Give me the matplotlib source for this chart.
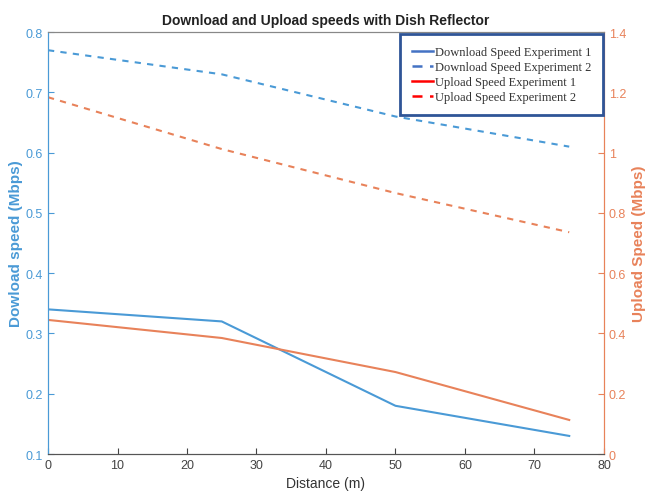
import matplotlib.pyplot as plt
from matplotlib.lines import Line2D

# distances (m)
distance = [0, 25, 50, 75]

# download speeds (Mbps), left axis
download_exp1 = [0.34, 0.32, 0.18, 0.13]
download_exp2 = [0.77, 0.73, 0.66, 0.61]

# upload speeds (Mbps), right axis
upload_exp1 = [0.445, 0.385, 0.272, 0.113]
upload_exp2 = [1.184, 1.012, 0.866, 0.736]

legend_labels = ['Download Speed Experiment 1', 'Download Speed Experiment 2',
                 'Upload Speed Experiment 1', 'Upload Speed Experiment 2']

blue = '#4a9ad6'
orange = '#e8825a'

plt.rcParams['font.family'] = ['Liberation Sans', 'DejaVu Sans']

fig = plt.figure(figsize=(6.47, 5.02), dpi=100)
ax = fig.add_axes([0.0742, 0.0936, 0.8593, 0.8404])
ax2 = ax.twinx()

ax.plot(distance, download_exp1, color=blue, linewidth=1.5)
ax.plot(distance, download_exp2, color=blue, linewidth=1.5, linestyle=(0, (3, 3)))
ax2.plot(distance, upload_exp1, color=orange, linewidth=1.5)
ax2.plot(distance, upload_exp2, color=orange, linewidth=1.5, linestyle=(0, (3, 3)))

ax.set_xlim(0, 80)
ax.set_ylim(0.1, 0.8)
ax2.set_ylim(0, 1.4)
ax.set_xticks(range(0, 81, 10))
ax.set_yticks([0.1, 0.2, 0.3, 0.4, 0.5, 0.6, 0.7, 0.8])
ax.set_yticklabels(['0.1', '0.2', '0.3', '0.4', '0.5', '0.6', '0.7', '0.8'])
ax2.set_yticks([0, 0.2, 0.4, 0.6, 0.8, 1.0, 1.2, 1.4])
ax2.set_yticklabels(['0', '0.2', '0.4', '0.6', '0.8', '1', '1.2', '1.4'])

for a in (ax, ax2):
    a.spines['top'].set_color('#888888')
    a.spines['bottom'].set_color('#555555')
    a.spines['left'].set_color(blue)
    a.spines['right'].set_color(orange)
ax.tick_params(axis='x', direction='in', colors='#444444', labelsize=9, length=4)
ax.tick_params(axis='y', direction='in', colors=blue, labelsize=9, length=4)
ax2.tick_params(axis='y', direction='in', colors=orange, labelsize=9, length=4)

ax.set_xlabel('Distance (m)', fontsize=10, color='#333333')
ax.set_ylabel('Dowload speed (Mbps)', fontsize=11, fontweight='bold', color=blue, labelpad=2)
ax2.set_ylabel('Upload Speed (Mbps)', fontsize=11, fontweight='bold', color=orange, labelpad=4)
ax.set_title('Download and Upload speeds with Dish Reflector', fontsize=10,
             fontweight='bold', color='#222222', pad=6)

handles = [Line2D([], [], color='#4472c4', linewidth=1.8),
           Line2D([], [], color='#4472c4', linewidth=1.8, linestyle=(0, (4, 3))),
           Line2D([], [], color='#ff0000', linewidth=1.8),
           Line2D([], [], color='#ff0000', linewidth=1.8, linestyle=(0, (4, 3)))]
leg = ax2.legend(handles, legend_labels, loc='upper right', bbox_to_anchor=(0.998, 0.995),
                 prop={'family': 'Liberation Serif', 'size': 9}, fancybox=False,
                 framealpha=1, edgecolor='#2f5597', handlelength=1.7, handletextpad=0.1,
                 borderpad=0.95, labelspacing=0.25, borderaxespad=0)
leg.get_frame().set_linewidth(2)
for t in leg.get_texts():
    t.set_color('#333333')

fig.savefig('out.png', dpi=100)
